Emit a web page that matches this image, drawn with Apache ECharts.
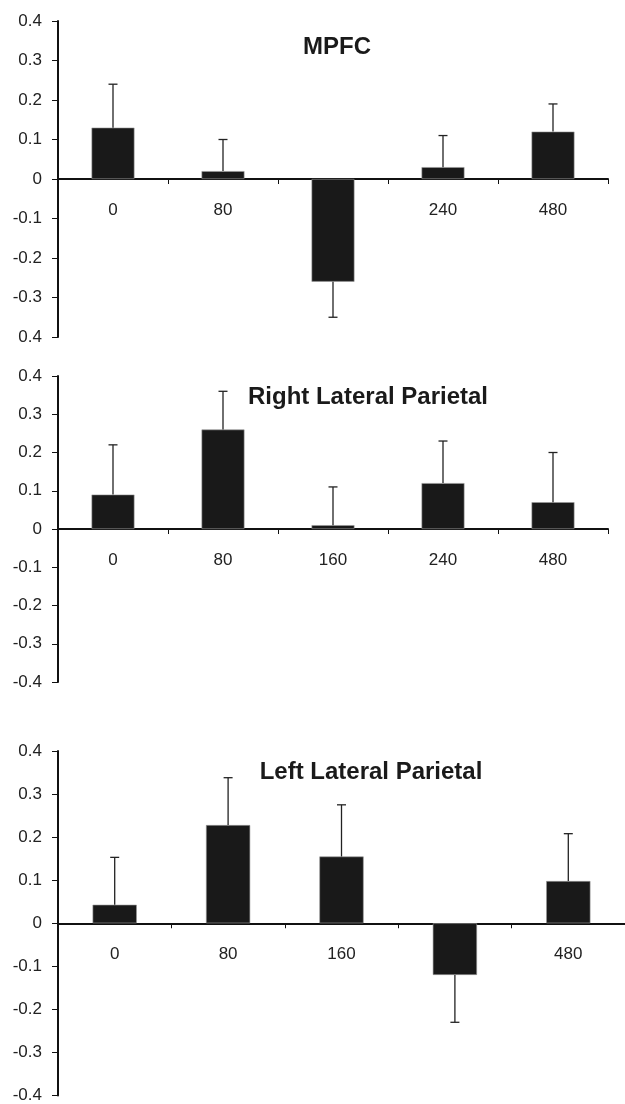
<!DOCTYPE html>
<html>
<head>
<meta charset="utf-8">
<script src="https://cdn.jsdelivr.net/npm/echarts@6/dist/echarts.min.js"></script>
<style>
  html, body { margin: 0; padding: 0; background: #fff; }
  #chart { width: 625px; height: 1104px; }
</style>
</head>
<body>
<div id="chart"></div>
<script>
// 数据
const categories = ['0', '80', '160', '240', '480'];
const panelTitles = ['MPFC', 'Right Lateral Parietal', 'Left Lateral Parietal'];

const mpfcValues = [0.13, 0.02, -0.26, 0.03, 0.12];
const mpfcErrors = [0.11, 0.08, 0.09, 0.08, 0.07];

const rlpValues = [0.09, 0.26, 0.01, 0.12, 0.07];
const rlpErrors = [0.13, 0.10, 0.10, 0.11, 0.13];

const llpValues = [0.043, 0.228, 0.155, -0.12, 0.098];
const llpErrors = [0.11, 0.11, 0.12, 0.11, 0.11];

// y tick labels (first panel prints "0.4" at the bottom, as in the figure)
const yTickLabels = [
  {'0.4': '0.4', '0.3': '0.3', '0.2': '0.2', '0.1': '0.1', '0': '0', '-0.1': '-0.1', '-0.2': '-0.2', '-0.3': '-0.3', '-0.4': '0.4'},
  {'0.4': '0.4', '0.3': '0.3', '0.2': '0.2', '0.1': '0.1', '0': '0', '-0.1': '-0.1', '-0.2': '-0.2', '-0.3': '-0.3', '-0.4': '-0.4'},
  {'0.4': '0.4', '0.3': '0.3', '0.2': '0.2', '0.1': '0.1', '0': '0', '-0.1': '-0.1', '-0.2': '-0.2', '-0.3': '-0.3', '-0.4': '-0.4'}
];

const allValues = [mpfcValues, rlpValues, llpValues];
const allErrors = [mpfcErrors, rlpErrors, llpErrors];

const FONT = '"Liberation Sans", Arial, sans-serif';
const TEXT = '#222';

// 布局
const grids = [
  {left: 58, top: 21, width: 550, height: 316},
  {left: 58, top: 376, width: 550, height: 306},
  {left: 58, top: 751, width: 573, height: 346}
];
const titlePos = [
  {x: 332, y: 30},
  {x: 363, y: 380},
  {x: 366, y: 755}
];

const chart = echarts.init(document.getElementById('chart'));

const xAxis = [];
const yAxis = [];
const series = [];
const title = [];

grids.forEach((g, i) => {
  title.push({
    text: panelTitles[i],
    left: titlePos[i].x,
    top: titlePos[i].y,
    textAlign: 'center',
    textStyle: {fontFamily: FONT, fontSize: 24, fontWeight: 'bold', color: '#1a1a1a'}
  });

  xAxis.push({
    type: 'category',
    gridIndex: i,
    data: categories,
    axisLine: {onZero: true, lineStyle: {color: '#111', width: 2}},
    axisTick: {show: true, length: 5, lineStyle: {color: '#111', width: 1}},
    // labels sit just under the zero line, not at the grid bottom
    axisLabel: {margin: 23 - g.height / 2, fontFamily: FONT, fontSize: 17, color: TEXT},
    splitLine: {show: false}
  });

  yAxis.push({
    type: 'value',
    gridIndex: i,
    min: -0.4,
    max: 0.4,
    interval: 0.1,
    axisLine: {show: true, onZero: false, lineStyle: {color: '#111', width: 2}},
    axisTick: {show: true, length: 6, lineStyle: {color: '#111', width: 1}},
    axisLabel: {
      margin: 16,
      fontFamily: FONT,
      fontSize: 17,
      color: TEXT,
      formatter: (v) => {
        const key = String(Math.round(v * 10) / 10);
        return yTickLabels[i][key] !== undefined ? yTickLabels[i][key] : key;
      }
    },
    splitLine: {show: false}
  });

  series.push({
    type: 'bar',
    xAxisIndex: i,
    yAxisIndex: i,
    barWidth: '39%',
    z: 3,
    itemStyle: {color: '#191919', borderColor: '#9a9a9a', borderWidth: 0.6},
    data: allValues[i]
  });

  // 误差线（单侧）
  series.push({
    type: 'custom',
    xAxisIndex: i,
    yAxisIndex: i,
    z: 4,
    silent: true,
    data: allValues[i].map((v, k) => [k, v, allErrors[i][k]]),
    renderItem: (params, api) => {
      const idx = api.value(0);
      const v = api.value(1);
      const e = api.value(2);
      const end = v >= 0 ? v + e : v - e;
      const p0 = api.coord([idx, v]);
      const p1 = api.coord([idx, end]);
      const half = 4.5;
      const style = {stroke: '#222', lineWidth: 1.3};
      return {
        type: 'group',
        children: [
          {type: 'line', shape: {x1: p0[0], y1: p0[1], x2: p1[0], y2: p1[1]}, style},
          {type: 'line', shape: {x1: p1[0] - half, y1: p1[1], x2: p1[0] + half, y2: p1[1]}, style}
        ]
      };
    }
  });
});

chart.setOption({
  backgroundColor: '#fff',
  animation: false,
  title,
  grid: grids,
  xAxis,
  yAxis,
  series
});
</script>
</body>
</html>
